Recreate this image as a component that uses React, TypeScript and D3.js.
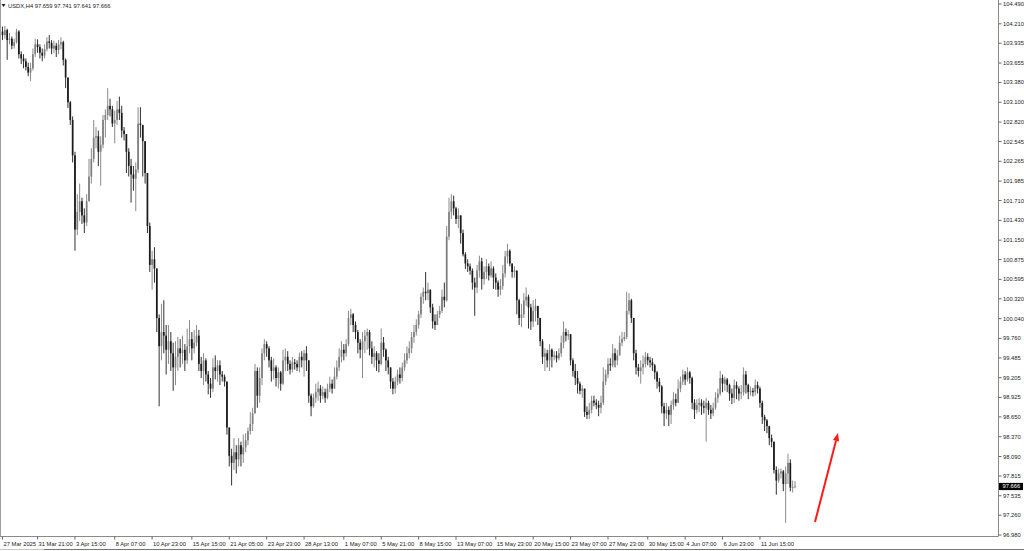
import React from 'react';
import * as d3 from 'd3';

const symbolName = 'USDX,H4';
const headerQuote = ['97.659', '97.741', '97.641', '97.666'];
const lastPrice = 97.666;
const firstOpen = 104.1;

const closes = [
  104.05, 104.12, 103.98, 104.0, 103.9, 103.95, 104.1, 103.78, 103.72, 103.68,
  103.6, 103.52, 103.58, 103.78, 103.92, 103.88, 103.8, 103.76, 103.85, 103.96,
  103.94, 103.86, 103.9, 103.84, 103.92, 103.95, 103.7, 103.45, 103.1, 102.85,
  102.35, 101.3, 101.55, 101.7, 101.5, 101.4, 101.7, 102.05, 102.3, 102.6,
  102.62, 102.4, 102.5, 102.85, 102.92, 103.05, 103.0, 102.8, 102.85, 103.0,
  102.95, 102.7, 102.65, 102.4, 102.2, 102.08, 102.02, 102.15, 102.8, 102.78,
  102.55, 102.1, 101.35, 100.8, 100.88, 100.75, 100.05, 99.65, 99.85, 99.8,
  99.6, 99.72, 99.55, 99.35, 99.5, 99.62, 99.55, 99.6, 99.45, 99.65,
  99.75, 99.62, 99.7, 99.8, 99.4, 99.3, 99.45, 99.25, 99.12, 99.05,
  99.35, 99.3, 99.38, 99.25, 99.22, 99.15, 98.5, 98.1, 98.0, 98.15,
  98.05, 98.25, 98.12, 98.22, 98.32, 98.45, 98.55, 98.7, 99.3, 98.95,
  99.2, 99.55, 99.68, 99.62, 99.45, 99.3, 99.35, 99.2, 99.28, 99.12,
  99.45, 99.5, 99.4, 99.32, 99.42, 99.4, 99.35, 99.5, 99.45, 99.55,
  99.45, 98.95, 98.8, 98.92, 99.0, 99.05, 98.95, 99.0, 98.92, 99.05,
  99.12, 99.05, 99.22, 99.35, 99.5, 99.6, 99.55, 99.68, 100.05, 100.1,
  99.95, 99.85, 99.7, 99.6, 99.72, 99.8, 99.85, 99.62, 99.5, 99.55,
  99.45, 99.4, 99.7, 99.6, 99.45, 99.35, 99.15, 99.05, 99.15, 99.25,
  99.2, 99.35, 99.45, 99.55, 99.62, 99.78, 99.85, 99.95, 100.1, 100.35,
  100.42, 100.4, 100.45, 100.2, 100.0, 99.95, 100.1, 100.15, 100.35, 100.3,
  101.2, 101.55, 101.7, 101.6, 101.45, 101.5, 101.25, 100.95, 100.82, 100.78,
  100.72, 100.55, 100.48, 100.72, 100.85, 100.6, 100.7, 100.78, 100.65, 100.75,
  100.62, 100.55, 100.45, 100.5, 100.68, 100.92, 101.0, 100.82, 100.7, 100.72,
  100.3, 100.05, 100.1, 100.3, 100.35, 100.2, 100.0, 100.15, 100.22, 100.05,
  99.72, 99.5, 99.55, 99.45, 99.6, 99.5, 99.52, 99.48, 99.55, 99.7,
  99.85, 99.8, 99.82, 99.45, 99.3, 99.2, 99.12, 99.02, 99.05, 98.72,
  98.68, 98.75, 98.88, 98.85, 98.82, 98.78, 98.85, 99.15, 99.25, 99.4,
  99.38, 99.55, 99.45, 99.52, 99.7, 99.75, 99.78, 100.15, 100.3, 100.05,
  99.55, 99.35, 99.3, 99.35, 99.4, 99.5, 99.45, 99.42, 99.38, 99.28,
  99.15, 99.08, 98.8, 98.7, 98.75, 98.68, 98.82, 98.9, 98.85, 99.05,
  99.15, 99.25, 99.18, 99.28, 99.2, 98.85, 98.75, 98.82, 98.85, 98.8,
  98.78, 98.85, 98.75, 98.7, 98.78, 98.92, 98.98, 99.2, 99.12, 99.18,
  99.1, 98.98, 98.92, 99.1, 99.05, 98.98, 99.0, 99.25, 99.1, 99.0,
  99.02, 99.0, 99.1, 99.05, 98.85, 98.65, 98.6, 98.52, 98.35, 98.3,
  97.9, 97.75, 97.85, 97.88, 97.7, 97.85, 98.0, 97.65, 97.659, 97.666,
];

const highs = [
  104.17, 104.18, 104.14, 104.08, 104.03, 104.0, 104.14, 104.12, 103.82, 103.78,
  103.72, 103.66, 103.66, 103.86, 104.0, 103.99, 103.92, 103.86, 103.92, 104.02,
  104.05, 103.98, 103.97, 103.94, 103.98, 104.02, 103.97, 103.72, 103.45, 103.12,
  102.9, 102.4, 101.8, 101.95, 101.75, 101.6, 101.8, 102.3, 102.45, 102.85,
  102.75, 102.7, 102.62, 102.92, 103.0, 103.3, 103.15, 103.05, 102.98, 103.12,
  103.18, 103.05, 102.75, 102.6, 102.45, 102.3, 102.2, 102.25, 103.03, 103.03,
  102.78, 102.5, 102.1, 101.4, 101.0, 101.05, 100.75, 100.1, 100.25, 100.3,
  99.95, 99.95, 99.85, 99.7, 99.72, 99.78, 99.75, 99.8, 99.68, 99.9,
  100.02, 99.85, 99.88, 99.95, 99.88, 99.5, 99.55, 99.48, 99.3, 99.2,
  99.48, 99.52, 99.45, 99.45, 99.3, 99.25, 99.15, 98.5, 98.2, 98.35,
  98.25, 98.35, 98.3, 98.4, 98.42, 98.5, 98.72, 98.78, 99.4, 99.35,
  99.35, 99.62, 99.75, 99.72, 99.65, 99.5, 99.48, 99.38, 99.35, 99.3,
  99.6, 99.62, 99.58, 99.45, 99.5, 99.47, 99.45, 99.56, 99.58, 99.6,
  99.65, 99.45, 98.98, 98.98, 99.12, 99.15, 99.1, 99.08, 99.05, 99.12,
  99.22, 99.18, 99.35, 99.45, 99.62, 99.72, 99.68, 99.75, 100.15, 100.18,
  100.12, 100.0, 99.88, 99.75, 99.85, 99.88, 99.9, 99.88, 99.72, 99.65,
  99.58, 99.55, 99.9, 99.78, 99.62, 99.5, 99.35, 99.2, 99.22, 99.32,
  99.35, 99.42, 99.55, 99.65, 99.72, 99.85, 99.95, 100.03, 100.15, 100.4,
  100.48, 100.7, 100.55, 100.45, 100.25, 100.1, 100.15, 100.22, 100.45, 100.55,
  101.35, 101.75, 101.8, 101.78, 101.62, 101.6, 101.5, 101.3, 100.98, 100.88,
  100.82, 100.75, 100.62, 100.8, 100.93, 100.9, 100.78, 100.88, 100.82, 100.85,
  100.78, 100.68, 100.58, 100.6, 100.8, 101.0, 101.1, 101.02, 100.82, 100.78,
  100.72, 100.32, 100.25, 100.4, 100.48, 100.38, 100.25, 100.3, 100.32, 100.22,
  100.05, 99.75, 99.62, 99.6, 99.68, 99.62, 99.58, 99.58, 99.62, 99.8,
  100.0, 99.9, 99.88, 99.82, 99.48, 99.4, 99.3, 99.15, 99.1, 99.05,
  98.8, 98.85, 98.95, 98.95, 98.9, 98.88, 98.95, 99.35, 99.32, 99.48,
  99.48, 99.68, 99.62, 99.6, 99.8, 99.85, 99.85, 100.42, 100.4, 100.32,
  100.05, 99.6, 99.4, 99.45, 99.52, 99.57, 99.55, 99.5, 99.48, 99.4,
  99.3, 99.2, 99.1, 98.85, 98.85, 98.8, 98.88, 99.0, 98.98, 99.18,
  99.22, 99.32, 99.3, 99.35, 99.3, 99.22, 98.9, 98.9, 98.92, 98.9,
  98.88, 98.92, 98.88, 98.82, 98.85, 99.0, 99.05, 99.3, 99.25, 99.22,
  99.2, 99.12, 99.05, 99.18, 99.15, 99.08, 99.1, 99.35, 99.3, 99.12,
  99.08, 99.06, 99.18, 99.15, 99.08, 98.88, 98.68, 98.62, 98.5, 98.4,
  98.3, 97.95, 97.92, 97.92, 97.9, 97.95, 98.13, 98.05, 97.75, 97.741,
];

const lows = [
  103.98, 104.0, 103.7, 103.92, 103.85, 103.86, 103.93, 103.72, 103.64, 103.58,
  103.55, 103.47, 103.4, 103.55, 103.74, 103.8, 103.72, 103.68, 103.72, 103.82,
  103.86, 103.78, 103.8, 103.74, 103.78, 103.85, 103.62, 103.3, 103.02, 102.78,
  102.25, 101.0, 101.22, 101.42, 101.38, 101.25, 101.35, 101.7, 101.95, 102.25,
  102.45, 102.2, 101.92, 102.45, 102.6, 102.85, 102.9, 102.75, 102.52, 102.78,
  102.85, 102.6, 102.56, 102.1, 102.05, 101.68, 101.85, 101.56, 102.1, 102.6,
  102.05, 101.95, 101.25, 100.7, 100.45, 100.55, 99.85, 98.8, 99.45, 99.55,
  99.25, 99.4, 99.3, 99.02, 99.1, 99.3, 99.35, 99.4, 99.3, 99.4,
  99.55, 99.45, 99.55, 99.65, 99.3, 99.2, 99.1, 99.15, 98.97, 98.92,
  99.0, 99.18, 99.15, 99.1, 99.15, 99.08, 98.4, 97.95, 97.68, 97.9,
  97.85, 97.95, 97.95, 98.0, 98.15, 98.25, 98.4, 98.45, 98.7, 98.78,
  98.85, 99.1, 99.45, 99.5, 99.35, 99.15, 99.18, 99.08, 99.05, 99.02,
  99.1, 99.3, 99.3, 99.25, 99.28, 99.32, 99.3, 99.28, 99.35, 99.22,
  99.3, 98.85, 98.66, 98.78, 98.85, 98.88, 98.85, 98.9, 98.85, 98.9,
  99.0, 98.98, 99.05, 99.18, 99.3, 99.42, 99.45, 99.5, 99.65, 99.95,
  99.85, 99.75, 99.55, 99.48, 99.2, 99.55, 99.6, 99.52, 99.4, 99.35,
  99.3, 99.28, 99.38, 99.5, 99.3, 99.25, 99.05, 98.97, 98.98, 99.1,
  99.12, 99.15, 99.3, 99.4, 99.48, 99.55, 99.7, 99.8, 99.9, 100.05,
  100.25, 100.3, 100.3, 100.12, 99.9, 99.88, 99.95, 100.05, 100.12, 100.2,
  100.28, 101.15, 101.45, 101.5, 101.38, 101.32, 101.1, 100.92, 100.74, 100.7,
  100.66, 100.45, 100.08, 100.4, 100.62, 100.45, 100.52, 100.6, 100.58, 100.62,
  100.46, 100.45, 100.35, 100.37, 100.45, 100.62, 100.82, 100.78, 100.62, 100.62,
  100.1, 99.95, 99.92, 100.05, 100.22, 99.9, 99.88, 99.92, 100.0, 99.95,
  99.65, 99.4, 99.3, 99.35, 99.3, 99.35, 99.45, 99.42, 99.45, 99.5,
  99.62, 99.72, 99.74, 99.38, 99.22, 99.1, 98.98, 98.97, 98.92, 98.65,
  98.62, 98.62, 98.7, 98.8, 98.76, 98.66, 98.7, 98.82, 99.1, 99.2,
  99.3, 99.35, 99.35, 99.38, 99.55, 99.65, 99.72, 99.75, 100.1, 99.98,
  99.45, 99.25, 99.22, 99.12, 99.25, 99.35, 99.38, 99.35, 99.3, 99.18,
  99.05, 99.0, 98.7, 98.52, 98.62, 98.52, 98.55, 98.75, 98.8, 98.85,
  99.0, 99.1, 99.1, 99.15, 99.12, 98.76, 98.62, 98.7, 98.72, 98.68,
  98.7, 98.3, 98.68, 98.62, 98.66, 98.75, 98.85, 98.95, 99.0, 99.02,
  99.0, 98.88, 98.83, 98.85, 98.9, 98.88, 98.9, 98.95, 98.98, 98.9,
  98.95, 98.94, 98.95, 98.98, 98.78, 98.55, 98.45, 98.42, 98.25, 98.22,
  97.85, 97.55, 97.72, 97.78, 97.6, 97.15, 97.7, 97.6, 97.58, 97.641,
];

const priceTicks = [
  104.49, 104.21, 103.935, 103.655, 103.38, 103.1, 102.82, 102.545, 102.265, 101.985,
  101.71, 101.43, 101.15, 100.875, 100.595, 100.32, 100.04, 99.76, 99.485, 99.205,
  98.925, 98.65, 98.37, 98.09, 97.815, 97.535, 97.26, 96.98,
];

const timeLabels = [
  '27 Mar 2025', '31 Mar 21:00', '3 Apr 15:00', '8 Apr 07:00', '10 Apr 23:00',
  '15 Apr 15:00', '21 Apr 05:00', '23 Apr 23:00', '28 Apr 13:00', '1 May 07:00',
  '5 May 21:00', '8 May 15:00', '13 May 07:00', '15 May 23:00', '20 May 15:00',
  '23 May 07:00', '27 May 23:00', '30 May 15:00', '4 Jun 07:00', '6 Jun 23:00',
  '11 Jun 15:00',
];
const timeLabelBars = [0, 15, 31, 48, 64, 81, 97, 113, 129, 146, 162, 178, 194, 211, 227, 243, 259, 276, 292, 308, 324];

const FONT = "'Liberation Sans', Arial, sans-serif";

export default function App() {
  const W = 1024;
  const H = 551;
  const axisX = 998.5;
  const axisY = 536.5;

  const y = d3.scaleLinear().domain([96.98, 104.49]).range([535, 4]);
  const x = d3.scaleLinear().domain([0, closes.length - 1]).range([2.5, 795]);

  const bars = closes.map((c, i) => {
    const o = i === 0 ? firstOpen : closes[i - 1];
    return {
      i,
      o,
      c,
      h: Math.max(highs[i], o, c),
      l: Math.min(lows[i], o, c),
    };
  });

  const bodyW = 1.7;
  const bull = '#7e7e7e';
  const bear = '#1a1a1a';

  const arrowStart: [number, number] = [815, 522];
  const arrowEnd: [number, number] = [838, 433];
  const ang = Math.atan2(arrowEnd[1] - arrowStart[1], arrowEnd[0] - arrowStart[0]);
  const headLen = 8;
  const headW = 3.2;
  const baseX = arrowEnd[0] - headLen * Math.cos(ang);
  const baseY = arrowEnd[1] - headLen * Math.sin(ang);
  const px = -Math.sin(ang);
  const py = Math.cos(ang);
  const head = `${arrowEnd[0]},${arrowEnd[1]} ${baseX + px * headW},${baseY + py * headW} ${baseX - px * headW},${baseY - py * headW}`;

  const lastY = y(lastPrice);

  return (
    <svg
      width={W}
      height={H}
      viewBox={`0 0 ${W} ${H}`}
      style={{ position: 'fixed', left: 0, top: 0, background: '#fff' }}
    >
      <rect x={0} y={0} width={W} height={H} fill="#fff" />
      {/* frame */}
      <line x1={0.5} y1={0} x2={0.5} y2={axisY} stroke="#a0a0a0" strokeWidth={1} />
      <line x1={axisX} y1={0} x2={axisX} y2={axisY} stroke="#8a8a8a" strokeWidth={1} />
      <line x1={0} y1={axisY} x2={axisX} y2={axisY} stroke="#8a8a8a" strokeWidth={1} />
      <line x1={0} y1={549.5} x2={44} y2={549.5} stroke="#c8c8c8" strokeWidth={1} />
      <line x1={44} y1={549.5} x2={W} y2={549.5} stroke="#777" strokeWidth={1.2} />

      {/* header */}
      <path d="M1.5,4 L5.5,4 L3.5,7 Z" fill="#222" />
      <text x={8} y={8} fontFamily={FONT} fontSize={5.8} fill="#222">
        {`${symbolName}  ${headerQuote.join(' ')}`}
      </text>

      {/* candles */}
      <g>
        {bars.map((b) => {
          const cx = x(b.i);
          const up = b.c >= b.o;
          const col = up ? bull : bear;
          const top = y(Math.max(b.o, b.c));
          const bot = y(Math.min(b.o, b.c));
          return (
            <g key={b.i}>
              <line x1={cx} x2={cx} y1={y(b.h)} y2={y(b.l)} stroke={col} strokeWidth={0.9} />
              <rect x={cx - bodyW / 2} y={top} width={bodyW} height={Math.max(0.8, bot - top)} fill={col} />
            </g>
          );
        })}
      </g>

      {/* price axis */}
      {priceTicks.map((p) => (
        <g key={p}>
          <line x1={axisX} x2={axisX + 3} y1={y(p)} y2={y(p)} stroke="#666" strokeWidth={1} />
          <text x={1003} y={y(p) + 2} fontFamily={FONT} fontSize={5.8} fill="#222">
            {p.toFixed(3)}
          </text>
        </g>
      ))}
      <rect x={999} y={lastY - 3.6} width={24} height={7.2} fill="#000" />
      <text x={1002.5} y={lastY + 2} fontFamily={FONT} fontSize={5.8} fill="#fff">
        {lastPrice.toFixed(3)}
      </text>

      {/* time axis */}
      {timeLabels.map((t, k) => {
        const tx = x(timeLabelBars[k]);
        return (
          <g key={t}>
            <line x1={tx} x2={tx} y1={axisY} y2={axisY + 3} stroke="#666" strokeWidth={1} />
            <text x={tx + 1} y={545.5} fontFamily={FONT} fontSize={5.8} fill="#222">
              {t}
            </text>
          </g>
        );
      })}

      {/* red arrow */}
      <line
        x1={arrowStart[0]}
        y1={arrowStart[1]}
        x2={baseX}
        y2={baseY}
        stroke="#ff1a1a"
        strokeWidth={2}
      />
      <polygon points={head} fill="#ff1a1a" />
    </svg>
  );
}
